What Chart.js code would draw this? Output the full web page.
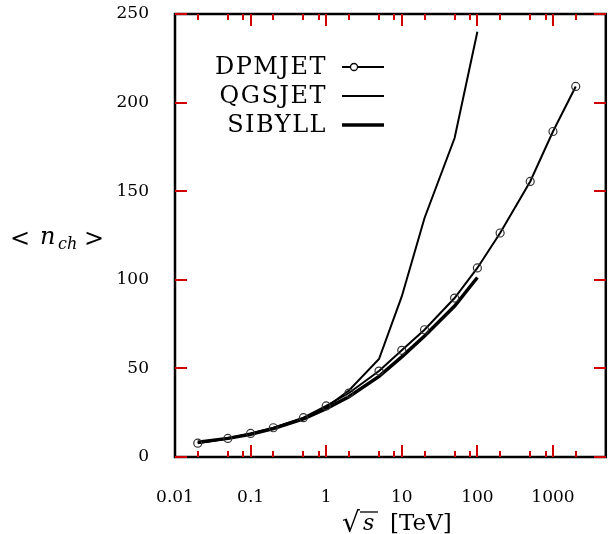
<!DOCTYPE html>
<html>
<head>
<meta charset="utf-8">
<script src="https://cdn.jsdelivr.net/npm/chart.js@4"></script>
<style>
  html, body { margin: 0; padding: 0; background: #fff; }
</style>
</head>
<body>
<canvas id="c" width="611" height="534"></canvas>
<script>
// ---- data ----
const energies = [0.02, 0.05, 0.1, 0.2, 0.5, 1, 2, 5, 10, 20, 50, 100, 200, 500, 1000, 2000];
const dpmjet  = [7.8, 10.5, 13.3, 16.5, 22.2, 28.8, 36.1, 48.5, 60.2, 71.8, 89.7, 106.7, 126.4, 155.5, 183.7, 209.1];
const qgsEnergies = [0.02, 0.05, 0.1, 0.2, 0.5, 1, 2, 5, 10, 20, 50, 100];
const qgsjet  = [8.0, 10.5, 13.0, 16.2, 21.8, 28.0, 37.5, 55.3, 90.6, 134.9, 180.0, 240.0];
const sibEnergies = [0.02, 0.05, 0.1, 0.2, 0.5, 1, 2, 5, 10, 20, 50, 100];
const sibyll  = [8.3, 10.5, 12.8, 16.0, 21.5, 27.3, 34.0, 45.5, 56.5, 68.3, 85.2, 101.3];
const seriesNames = ['DPMJET', 'QGSJET', 'SIBYLL'];
const xMajorTicks = [0.01, 0.1, 1, 10, 100, 1000];
const xTickLabels = ['0.01', '0.1', '1', '10', '100', '1000'];
const xMinorFactors = [2, 5, 8];
const yTicks = [0, 50, 100, 150, 200, 250];
const yTickLabels = ['0', '50', '100', '150', '200', '250'];

const toPts = (xv, yv) => xv.map((x, i) => ({x: x, y: yv[i]}));
const SERIF = '"DejaVu Serif", "Liberation Serif", serif';

const decor = {
  id: 'decor',
  afterDraw(chart) {
    const ctx = chart.ctx;
    const a = chart.chartArea;
    const sx = chart.scales.x, sy = chart.scales.y;
    const line = (x1, y1, x2, y2, w) => {
      ctx.lineWidth = w;
      ctx.beginPath(); ctx.moveTo(x1, y1); ctx.lineTo(x2, y2); ctx.stroke();
    };
    ctx.save();
    ctx.strokeStyle = '#000';
    // frame first
    ctx.lineWidth = 2.5;
    ctx.strokeRect(a.left, a.top, a.right - a.left, a.bottom - a.top);
    // inward ticks on all four sides
    const L = Math.round(a.left), R = Math.round(a.right), T = Math.round(a.top), B = Math.round(a.bottom);
    const tickPos = [];
    xMajorTicks.forEach(v => {
      tickPos.push([v, 12]);
      xMinorFactors.forEach(f => { if (v * f < sx.max) tickPos.push([v * f, 6]); });
    });
    ctx.fillStyle = '#d00000';
    tickPos.forEach(([v, len]) => {
      const p = Math.round(sx.getPixelForValue(v));
      if (p <= L + 1 || p >= R - 1) return;
      ctx.fillRect(p - 1, B - len, 2, len);
      ctx.fillRect(p - 1, T, 2, len);
    });
    yTicks.forEach(v => {
      const p = Math.round(sy.getPixelForValue(v));
      ctx.fillRect(L, p - 1, 12, 2);
      ctx.fillRect(R - 12, p - 1, 12, 2);
    });
    ctx.fillStyle = '#000';

    // legend
    const ds = chart.data.datasets;
    const legY = [67, 96, 125];
    ctx.font = '24px ' + SERIF;
    ctx.letterSpacing = '1.5px';
    ctx.textAlign = 'right';
    ctx.textBaseline = 'middle';
    ds.forEach((d, i) => {
      ctx.fillText(d.label, 327, legY[i] + 1);
      line(342, legY[i], 384, legY[i], d.borderWidth);
      if (d.pointRadius > 0) {
        ctx.lineWidth = 1.3;
        ctx.fillStyle = '#fff';
        ctx.beginPath();
        ctx.arc(354, legY[i], 3.5, 0, Math.PI * 2);
        ctx.fill(); ctx.stroke();
        ctx.fillStyle = '#000';
      }
    });
    ctx.letterSpacing = '0px';

    // y title: < n_ch >
    ctx.textAlign = 'left';
    ctx.textBaseline = 'alphabetic';
    ctx.font = '24px ' + SERIF;
    ctx.fillText('<', 10, 246);
    ctx.font = 'italic 24px ' + SERIF;
    ctx.fillText('n', 40, 244);
    ctx.font = 'italic 16px ' + SERIF;
    ctx.fillText('ch', 58, 249);
    ctx.font = '24px ' + SERIF;
    ctx.fillText('>', 84, 246);

    // x title: sqrt(s) [TeV]
    ctx.font = '28px ' + SERIF;
    ctx.fillText('\u221A', 342, 532);
    ctx.font = 'italic 22px ' + SERIF;
    ctx.fillText('s', 363, 530);
    line(360, 512, 378, 512, 1.3);
    ctx.font = '23px ' + SERIF;
    ctx.fillText('[TeV]', 390, 530);
    ctx.restore();
  }
};

new Chart(document.getElementById('c'), {
  type: 'line',
  data: {
    datasets: [
      { label: seriesNames[0], data: toPts(energies, dpmjet), borderColor: '#000', borderWidth: 2,
        pointRadius: 4, pointHoverRadius: 4, pointBorderWidth: 1.2, pointBorderColor: '#333',
        pointBackgroundColor: 'rgba(0,0,0,0)', tension: 0, fill: false },
      { label: seriesNames[1], data: toPts(qgsEnergies, qgsjet), borderColor: '#000', borderWidth: 2,
        pointRadius: 0, tension: 0, fill: false },
      { label: seriesNames[2], data: toPts(sibEnergies, sibyll), borderColor: '#000', borderWidth: 3.5,
        pointRadius: 0, tension: 0, fill: false }
    ]
  },
  options: {
    responsive: false,
    animation: false,
    devicePixelRatio: 1,
    layout: { padding: { left: 0, right: 3, top: 14, bottom: 0 } },
    plugins: { legend: { display: false }, tooltip: { enabled: false }, title: { display: false } },
    scales: {
      x: {
        type: 'logarithmic', min: 0.01, max: 5000,
        grid: { display: false },
        border: { display: false },
        afterBuildTicks: s => { s.ticks = xMajorTicks.map(v => ({ value: v })); },
        afterFit: s => { s.height = 77; s.paddingLeft = 0; s.paddingRight = 0; },
        ticks: {
          autoSkip: false, maxRotation: 0, padding: 22, color: '#000',
          font: { family: SERIF, size: 17 },
          callback: (v, i) => xTickLabels[i]
        }
      },
      y: {
        type: 'linear', min: 0, max: 250,
        grid: { display: false },
        border: { display: false },
        afterBuildTicks: s => { s.ticks = yTicks.map(v => ({ value: v })); },
        afterFit: s => { s.width = 175; s.paddingTop = 0; s.paddingBottom = 0; },
        ticks: {
          padding: 18, color: '#000',
          font: { family: SERIF, size: 17 },
          callback: (v, i) => yTickLabels[i]
        }
      }
    }
  },
  plugins: [decor]
});
</script>
</body>
</html>
